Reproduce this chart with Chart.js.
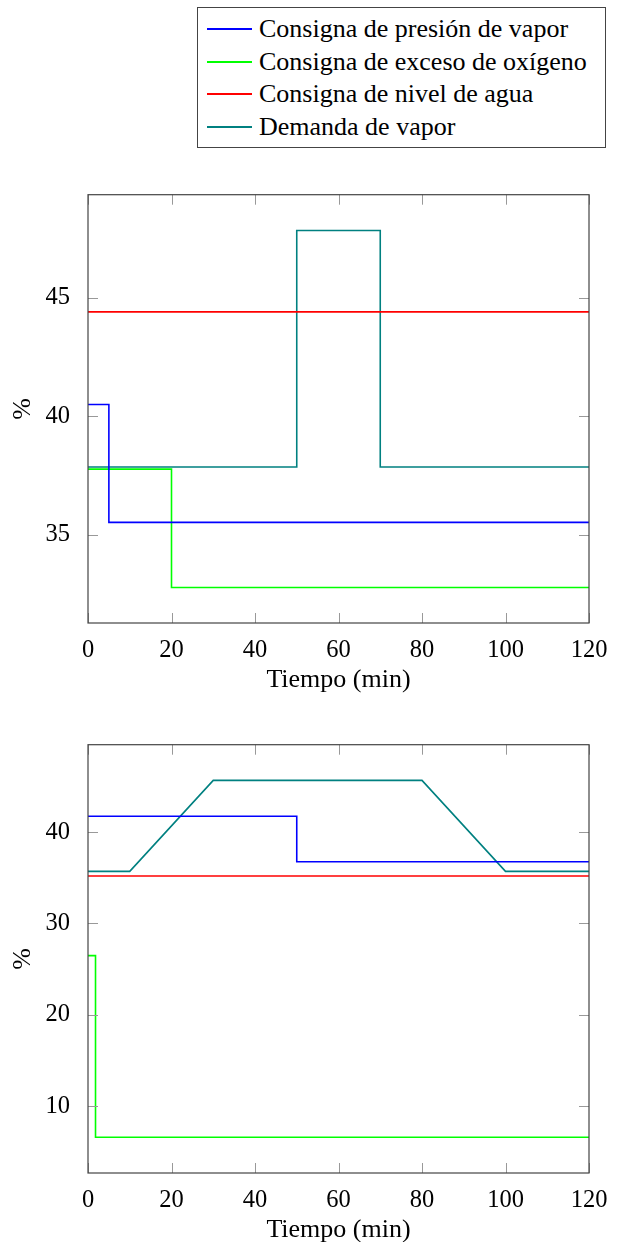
<!DOCTYPE html>
<html>
<head>
<meta charset="utf-8">
<script src="https://cdn.jsdelivr.net/npm/chart.js@4/dist/chart.umd.min.js"></script>
<style>
    html, body { margin: 0; padding: 0; background: #fff; overflow: hidden; }
    body { width: 640px; height: 1242px; position: relative; font-family: "Liberation Serif", serif; }
    .chartBox { position: absolute; left: 0; width: 640px; height: 540px; }
    #legend {
        position: absolute; left: 197px; top: 7px; width: 407px; height: 139px;
        border: 1px solid #444; box-sizing: content-box;
    }
    .row { position: absolute; left: 0; height: 32px; line-height: 32px; font-size: 26px; color: #000; white-space: nowrap; }
    .row span.swatch { position: absolute; left: 9px; top: 15px; width: 45px; height: 2px; }
    .row span.label { position: absolute; left: 61px; top: 0; }
</style>
</head>
<body>
<div id="legend"></div>
<div class="chartBox" style="top:170px"><canvas id="chart1"></canvas></div>
<div class="chartBox" style="top:720px"><canvas id="chart2"></canvas></div>
<script>
// Series names / colours (shared by both plots)
const seriesNames = ['Consigna de presión de vapor', 'Consigna de exceso de oxígeno', 'Consigna de nivel de agua', 'Demanda de vapor'];
const seriesColors = ['#0000ff', '#00ff00', '#ff0000', '#008080'];

const xTicks = [0, 20, 40, 60, 80, 100, 120];
const yTicks1 = [35, 40, 45];
const yTicks2 = [10, 20, 30, 40];

// Plot 1
const tPresion1 = [0, 5, 5, 120];
const presion1 = [40.5, 40.5, 35.52, 35.52];
const tOxigeno1 = [0, 20, 20, 120];
const oxigeno1 = [37.77, 37.77, 32.77, 32.77];
const tNivel1 = [0, 120];
const nivel1 = [44.41, 44.41];
const tDemanda1 = [0, 50, 50, 70, 70, 120];
const demanda1 = [37.86, 37.86, 47.85, 47.85, 37.86, 37.86];

// Plot 2
const tPresion2 = [0, 50, 50, 120];
const presion2 = [41.75, 41.75, 36.76, 36.76];
const tOxigeno2 = [0, 1.8, 1.8, 120];
const oxigeno2 = [26.48, 26.48, 6.58, 6.58];
const tNivel2 = [0, 120];
const nivel2 = [35.2, 35.2];
const tDemanda2 = [0, 10, 30, 80, 100, 120];
const demanda2 = [35.71, 35.71, 45.67, 45.67, 35.71, 35.71];

// Legend
const legend = document.getElementById('legend');
seriesNames.forEach((name, i) => {
    const row = document.createElement('div');
    row.className = 'row';
    row.style.top = (5 + i * 32.5) + 'px';
    row.innerHTML = `<span class="swatch" style="background:${seriesColors[i]}"></span><span class="label">${name}</span>`;
    legend.appendChild(row);
});

function pts(xs, ys) {
    return xs.map((x, i) => ({ x: x, y: ys[i] }));
}

// pgfplots-like frame with inward ticks on all sides
const framePlugin = {
    id: 'frame',
    afterDatasetsDraw(chart) {
        const { ctx, chartArea: a, scales } = chart;
        ctx.save();
        ctx.strokeStyle = '#999';
        ctx.lineWidth = 1;
        const len = 10;
        ctx.beginPath();
        scales.x.ticks.forEach(t => {
            const px = Math.round(scales.x.getPixelForValue(t.value)) + 0.5;
            ctx.moveTo(px, a.bottom); ctx.lineTo(px, a.bottom - len);
            ctx.moveTo(px, a.top); ctx.lineTo(px, a.top + len);
        });
        scales.y.ticks.forEach(t => {
            const py = Math.round(scales.y.getPixelForValue(t.value)) + 0.5;
            ctx.moveTo(a.left, py); ctx.lineTo(a.left + len, py);
            ctx.moveTo(a.right, py); ctx.lineTo(a.right - len, py);
        });
        ctx.stroke();
        ctx.strokeStyle = '#444';
        ctx.lineWidth = 1.2;
        ctx.strokeRect(a.left, a.top, a.right - a.left, a.bottom - a.top);
        ctx.restore();
    }
};

const fontTicks = { family: 'Liberation Serif', size: 24.5 };
const fontTitle = { family: 'Liberation Serif', size: 26 };

function makeChart(id, data, yMin, yMax, yTicks) {
    const datasets = data.map((d, i) => ({
        label: seriesNames[i],
        data: pts(d[0], d[1]),
        borderColor: seriesColors[i],
        borderWidth: 1.6,
        pointRadius: 0,
        fill: false,
        tension: 0
    }));
    return new Chart(document.getElementById(id), {
        type: 'line',
        data: { datasets: datasets },
        options: {
            responsive: true,
            maintainAspectRatio: false,
            animation: false,
            layout: { padding: { top: 23, right: 51, left: 0, bottom: 0 } },
            plugins: { legend: { display: false }, tooltip: { enabled: false } },
            scales: {
                x: {
                    type: 'linear', min: 0, max: 120,
                    grid: { display: false },
                    border: { display: false },
                    afterBuildTicks: s => { s.ticks = xTicks.map(v => ({ value: v })); },
                    afterFit: s => { s.height = 87; },
                    ticks: { color: '#000', font: fontTicks, padding: 5, maxRotation: 0 },
                    title: { display: true, text: 'Tiempo (min)', color: '#000', font: fontTitle, padding: { top: 0, bottom: 14 } }
                },
                y: {
                    type: 'linear', min: yMin, max: yMax,
                    grid: { display: false },
                    border: { display: false },
                    afterBuildTicks: s => { s.ticks = yTicks.map(v => ({ value: v })); },
                    afterFit: s => { s.width = 88; },
                    ticks: { color: '#000', font: fontTicks, padding: 10 },
                    title: { display: true, text: '%', color: '#000', font: fontTitle, padding: { top: 8, bottom: 0 } }
                }
            }
        },
        plugins: [framePlugin]
    });
}

makeChart('chart1', [[tPresion1, presion1], [tOxigeno1, oxigeno1], [tNivel1, nivel1], [tDemanda1, demanda1]], 31.27, 49.36, yTicks1);
makeChart('chart2', [[tPresion2, presion2], [tOxigeno2, oxigeno2], [tNivel2, nivel2], [tDemanda2, demanda2]], 2.67, 49.58, yTicks2);
</script>
</body>
</html>
